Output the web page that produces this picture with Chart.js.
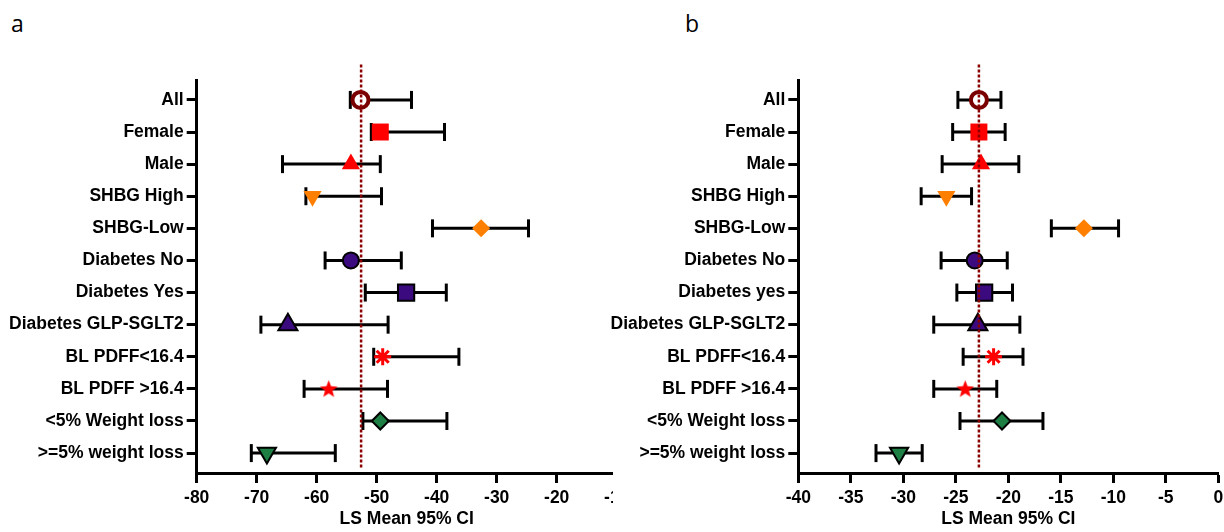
<!DOCTYPE html>
<html><head><meta charset="utf-8">
<script src="https://cdn.jsdelivr.net/npm/chart.js@4.4.1/dist/chart.umd.min.js"></script>
<style>
html,body{margin:0;padding:0;background:#fff;width:1224px;height:532px;overflow:hidden;position:relative}
.lbl{position:absolute;font-family:'Open Sans',sans-serif;font-size:23px;color:#000;line-height:1}
#wa{position:absolute;left:0;top:0;width:613px;height:532px;overflow:hidden}
#ca{position:absolute;left:0;top:0}
#cb{position:absolute;left:600px;top:0}
</style></head><body>
<div class="lbl" style="left:11px;top:12px">a</div>
<div class="lbl" style="left:685px;top:12px">b</div>
<div id="wa"><canvas id="ca" width="640" height="532"></canvas></div>
<canvas id="cb" width="640" height="532"></canvas>
<script>
// ---- data ----
const labelsA = ["All","Female","Male","SHBG High","SHBG-Low","Diabetes No","Diabetes Yes","Diabetes GLP-SGLT2","BL PDFF<16.4","BL PDFF >16.4","<5% Weight loss",">=5% weight loss"];
const labelsB = ["All","Female","Male","SHBG High","SHBG-Low","Diabetes No","Diabetes yes","Diabetes GLP-SGLT2","BL PDFF<16.4","BL PDFF >16.4","<5% Weight loss",">=5% weight loss"];

const meanA  = [-52.7, -49.4, -54.3, -60.7, -32.6, -54.3, -45.1, -64.8, -49.0, -58.0, -49.4, -68.3];
const lowerA = [-54.4, -50.9, -65.7, -61.8, -40.7, -58.6, -51.9, -69.3, -50.5, -62.1, -52.3, -70.9];
const upperA = [-44.2, -38.7, -49.4, -49.2, -24.7, -45.9, -38.4, -48.1, -36.3, -48.2, -38.3, -56.9];
const refA = -52.6;

const meanB  = [-22.8, -22.8, -22.6, -25.9, -12.8, -23.2, -22.3, -22.9, -21.4, -24.1, -20.6, -30.4];
const lowerB = [-24.8, -25.3, -26.3, -28.3, -15.9, -26.4, -24.9, -27.1, -24.3, -27.1, -24.6, -32.6];
const upperB = [-20.7, -20.3, -19.0, -23.5, -9.5, -20.1, -19.6, -18.9, -18.6, -21.1, -16.7, -28.2];
const refB = -22.8;

const xTicksA = {min: -80, max: -10, step: 10};
const xTicksB = {min: -40, max: 0, step: 5};
const xTitle = "LS Mean 95% CI";

// ---- styles ----
const RED = '#FF0000', ORANGE = '#FF8000', PURPLE = '#3B0A7E', GREEN = '#1E7F45', MAROON = '#7A0000';
function starCanvas(){
  const c = document.createElement('canvas'); c.width = 19; c.height = 19;
  const g = c.getContext('2d'); g.fillStyle = RED; g.beginPath();
  for (let i = 0; i < 10; i++) {
    const r = i % 2 === 0 ? 9.3 : 3.9;
    const a = -Math.PI/2 + i*Math.PI/5;
    const px = 9.5 + r*Math.cos(a), py = 10 + r*Math.sin(a);
    i ? g.lineTo(px, py) : g.moveTo(px, py);
  }
  g.closePath(); g.fill(); return c;
}
const STAR = starCanvas();
const mStyle  = ['circle','rect','triangle','triangle','rectRot','circle','rect','triangle','star',STAR,'rectRot','triangle'];
const mRadius = [8, 12, 10.5, 10.5, 9, 8, 11.5, 11, 8.5, 9, 8.5, 10.5];
const mRot    = [0,0,0,180,0,0,0,0,0,0,0,180];
const mBg     = ['#FFFFFF',RED,RED,ORANGE,ORANGE,PURPLE,PURPLE,PURPLE,RED,RED,GREEN,GREEN];
const mBorder = [MAROON,RED,RED,ORANGE,ORANGE,'#000','#000','#000',RED,RED,'#000','#000'];
const mBw     = [4,0,0,0,0,2,2,2,3,0,2,2];

const FONT = {family: "'Liberation Sans', Arial, sans-serif", weight: 'bold', size: 17.5};

function makeChart(id, labels, mean, lower, upper, ref, xt, yWidth, padRight){
  const n = labels.length;
  const datasets = [];
  datasets.push({
    type: 'line', data: [{x: ref, y: -1.1}, {x: ref, y: 11.47}],
    borderColor: '#8B0000', borderWidth: 2.5, borderDash: [3, 2], pointRadius: 0,
    clip: false, order: 0
  });
  datasets.push({
    type: 'scatter', data: mean.map((v, i) => ({x: v, y: i})),
    pointStyle: mStyle, pointRadius: mRadius, pointRotation: mRot,
    pointBackgroundColor: mBg, pointBorderColor: mBorder, pointBorderWidth: mBw,
    order: 1, clip: false
  });
  for (let i = 0; i < n; i++) {
    datasets.push({
      type: 'line', data: [{x: lower[i], y: i}, {x: upper[i], y: i}],
      borderColor: '#000', borderWidth: 3, pointStyle: 'line', pointRotation: 90,
      pointRadius: 9, pointBorderWidth: 3, pointBorderColor: '#000', order: 2, clip: false
    });
  }
  return new Chart(document.getElementById(id), {
    data: {datasets},
    options: {
      responsive: false, animation: false, devicePixelRatio: 1,
      layout: {padding: {top: 80, right: padRight, left: 0, bottom: 0}},
      plugins: {legend: {display: false}, tooltip: {enabled: false}},
      scales: {
        x: {
          type: 'linear', position: 'bottom', min: xt.min, max: xt.max,
          ticks: {stepSize: xt.step, color: '#000', font: FONT, padding: 5, maxRotation: 0},
          grid: {drawOnChartArea: false, drawTicks: true, tickLength: 10, tickWidth: 3, tickColor: '#000'},
          border: {display: true, width: 3, color: '#000'},
          title: {display: true, text: xTitle, color: '#000', font: FONT, padding: {top: 0, bottom: 2}},
          afterFit: s => { s.height = 59; }
        },
        y: {
          type: 'linear', position: 'left', min: -0.62, max: 11.62, reverse: true,
          afterBuildTicks: ax => { ax.ticks = labels.map((_, i) => ({value: i})); },
          ticks: {color: '#000', font: FONT, padding: 3, autoSkip: false,
                  callback: v => labels[v]},
          grid: {drawOnChartArea: false, drawTicks: true, tickLength: 10, tickWidth: 3, tickColor: '#000'},
          border: {display: true, width: 3, color: '#000'},
          afterFit: s => { s.width = yWidth; }
        }
      }
    }
  });
}
makeChart('ca', labelsA, meanA, lowerA, upperA, refA, xTicksA, 196.7, 23.3);
makeChart('cb', labelsB, meanB, lowerB, upperB, refB, xTicksB, 198.3, 21.7);
</script>
</body></html>
